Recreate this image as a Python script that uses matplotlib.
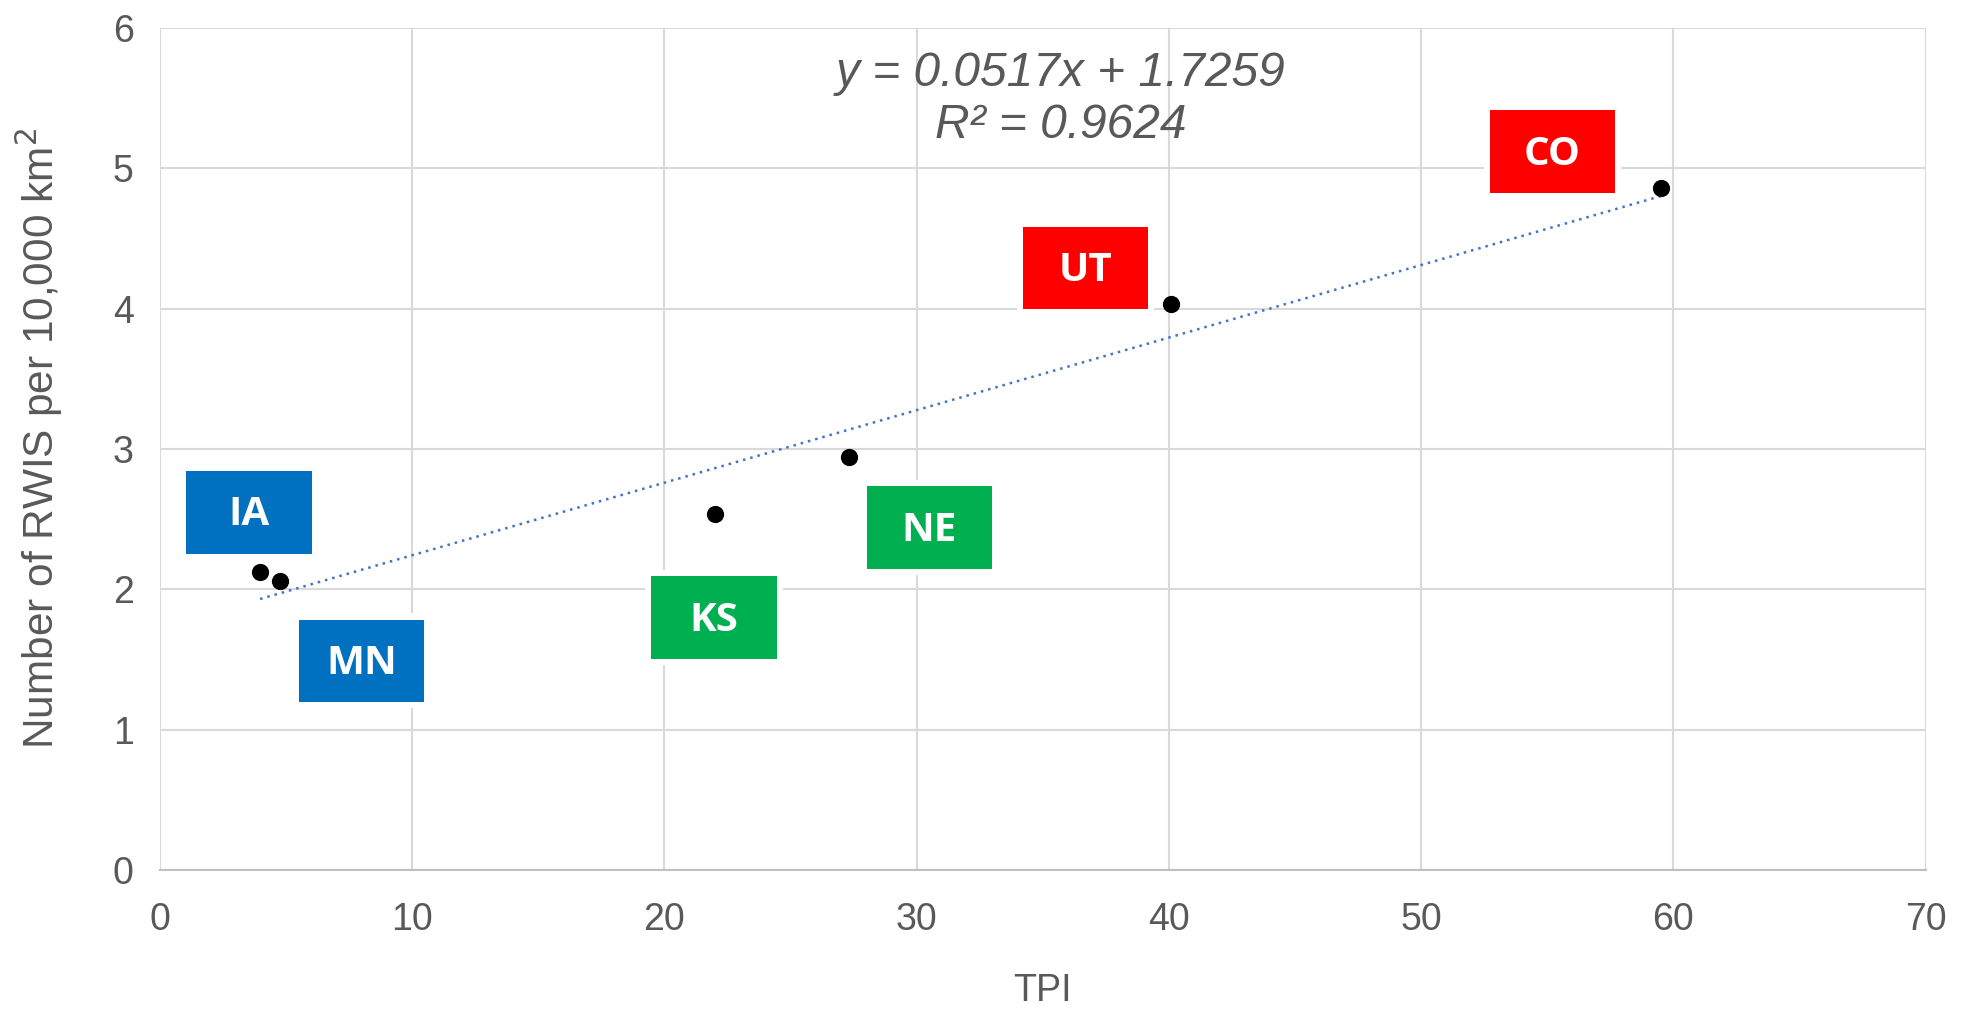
import numpy as np
import matplotlib.pyplot as plt
from matplotlib.patches import Rectangle

# state data
states = ["IA", "MN", "KS", "NE", "UT", "CO"]
tpi = [3.97, 4.77, 22.0, 27.3, 40.1, 59.5]
rwis = [2.12, 2.06, 2.54, 2.94, 4.03, 4.86]
colors = ["#0070C0", "#0070C0", "#00B050", "#00B050", "#FF0000", "#FF0000"]

# label box centres (data coords)
label_x = [3.53, 8.0, 21.96, 30.5, 36.7, 55.2]
label_y = [2.55, 1.49, 1.80, 2.44, 4.29, 5.12]

# linear trend (Excel output)
slope, intercept, r2 = 0.0517, 1.7259, 0.9624

gray = "#595959"
plt.rcParams['font.family'] = ['Liberation Sans', 'DejaVu Sans']

fig = plt.figure(figsize=(19.65, 10.1), dpi=100)
ax = fig.add_axes([0.0814, 0.1386, 0.8986, 0.8337])

ax.set_xlim(0, 70)
ax.set_ylim(0, 6)
ax.set_xticks(range(0, 71, 10))
ax.set_yticks(range(0, 7))
ax.grid(True, color="#D9D9D9", linewidth=1.5)
ax.set_axisbelow(True)
for s in ["top", "right", "left"]:
    ax.spines[s].set_visible(False)
ax.spines["bottom"].set_color("#BFBFBF")
ax.spines["bottom"].set_linewidth(1.5)
ax.tick_params(length=0, labelsize=27, labelcolor=gray)
ax.tick_params(axis="x", pad=23)
ax.tick_params(axis="y", pad=19)

# trendline
xs = np.array([min(tpi), max(tpi)])
ax.plot(xs, slope * xs + intercept, color="#4472C4", linewidth=1.8,
        linestyle=(0, (1, 2)), zorder=2)

ax.scatter(tpi, rwis, s=130, color="black", zorder=4)

# state label boxes
bw, bh = 4.97, 0.59
padx, pady = 0.24, 0.043
for name, lx, ly, c in zip(states, label_x, label_y, colors):
    ax.add_patch(Rectangle((lx - bw / 2 - padx, ly - bh / 2 - pady), bw + 2 * padx,
                           bh + 2 * pady, facecolor="white", edgecolor="none", zorder=3))
    ax.add_patch(Rectangle((lx - bw / 2, ly - bh / 2), bw, bh,
                           facecolor=c, edgecolor="none", zorder=3))
    ax.text(lx, ly - 0.02, name, ha="center", va="center", color="white", fontsize=29,
            fontweight="bold", family=["Open Sans", "DejaVu Sans"], zorder=5)

ax.text(35.7, 5.49, f"y = {slope}x + {intercept}\nR² = {r2}", ha="center", va="center",
        fontsize=34.5, style="italic", color=gray, linespacing=1.22)

ax.set_xlabel("TPI", fontsize=27, color=gray, labelpad=25)
ax.set_ylabel("Number of RWIS per 10,000 km$^2$", fontsize=30.5, color=gray)
ax.yaxis.set_label_coords(-0.054, 0.512)

fig.savefig("out.png", dpi=100)
